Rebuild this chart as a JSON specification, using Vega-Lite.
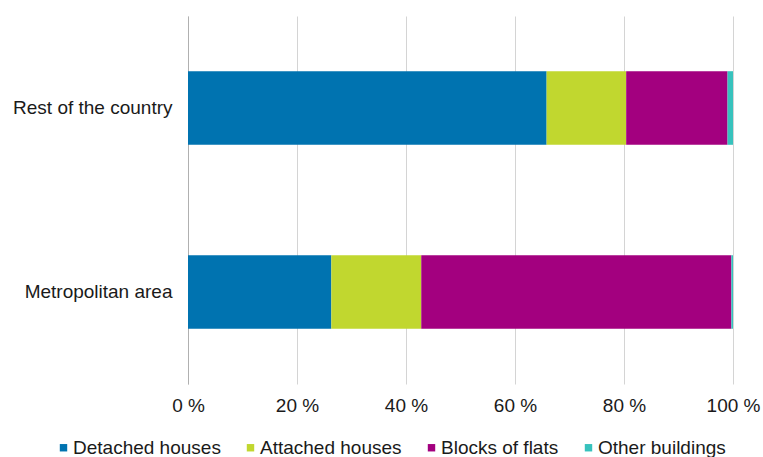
{
  "$schema": "https://vega.github.io/schema/vega-lite/v6.json",
  "width": 545,
  "height": 368,
  "autosize": "none",
  "padding": {"left": 188, "top": 16, "right": 30, "bottom": 73},
  "background": "white",
  "data": {
    "values": [
      {"region": "Rest of the country", "type": "Detached houses", "order": 1, "share": 65.8},
      {"region": "Rest of the country", "type": "Attached houses", "order": 2, "share": 14.6},
      {"region": "Rest of the country", "type": "Blocks of flats", "order": 3, "share": 18.6},
      {"region": "Rest of the country", "type": "Other buildings", "order": 4, "share": 1.0},
      {"region": "Metropolitan area", "type": "Detached houses", "order": 1, "share": 26.3},
      {"region": "Metropolitan area", "type": "Attached houses", "order": 2, "share": 16.5},
      {"region": "Metropolitan area", "type": "Blocks of flats", "order": 3, "share": 56.9},
      {"region": "Metropolitan area", "type": "Other buildings", "order": 4, "share": 0.3}
    ]
  },
  "config": {
    "view": {"stroke": null},
    "font": "Liberation Sans"
  },
  "mark": {"type": "bar"},
  "encoding": {
    "y": {
      "field": "region",
      "type": "nominal",
      "sort": ["Rest of the country", "Metropolitan area"],
      "scale": {"paddingInner": 0.6, "paddingOuter": 0.3},
      "axis": {
        "title": null,
        "ticks": false,
        "domain": true,
        "domainColor": "#b0b0b0",
        "labelFont": "Liberation Sans",
        "labelFontSize": 19,
        "labelColor": "#1a1a1a",
        "labelPadding": 16
      }
    },
    "x": {
      "field": "share",
      "type": "quantitative",
      "stack": "zero",
      "scale": {"domain": [0, 100], "nice": false},
      "axis": {
        "title": null,
        "values": [0, 20, 40, 60, 80, 100],
        "labelExpr": "datum.value + ' %'",
        "labelFlush": false,
        "ticks": false,
        "domain": false,
        "grid": true,
        "gridColor": "#d4d4d4",
        "labelFont": "Liberation Sans",
        "labelFontSize": 19,
        "labelColor": "#1a1a1a",
        "labelPadding": 12
      }
    },
    "color": {
      "field": "type",
      "type": "nominal",
      "scale": {
        "domain": ["Detached houses", "Attached houses", "Blocks of flats", "Other buildings"],
        "range": ["#0073b0", "#c1d72f", "#a3007f", "#37c2bd"]
      },
      "legend": {
        "title": null,
        "orient": "none",
        "direction": "horizontal",
        "legendX": -134,
        "legendY": 422,
        "symbolType": "square",
        "symbolSize": 55,
        "symbolStrokeWidth": 0,
        "symbolOffset": 0,
        "labelOffset": 0,
        "labelFont": "Liberation Sans",
        "labelFontSize": 19,
        "labelColor": "#1a1a1a",
        "columnPadding": 20
      }
    },
    "order": {"field": "order", "type": "quantitative"}
  }
}
